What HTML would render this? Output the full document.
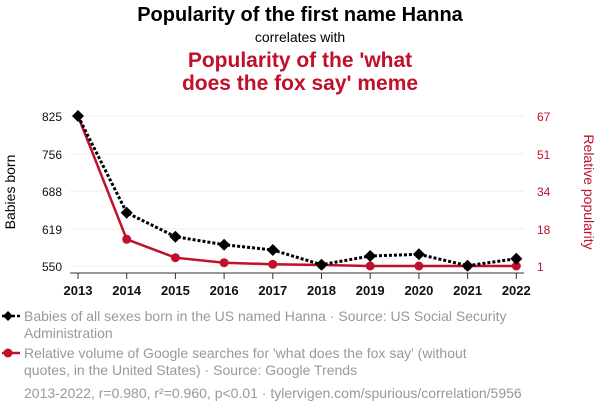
<!DOCTYPE html>
<html><head><style>
body{margin:0;background:#fff;width:600px;height:414px;overflow:hidden;font-family:"Liberation Sans",sans-serif}
</style></head><body>
<svg width="600" height="414" xmlns="http://www.w3.org/2000/svg" font-family="Liberation Sans, sans-serif">
<text x="300" y="21" text-anchor="middle" font-size="20" font-weight="bold" fill="#000">Popularity of the first name Hanna</text>
<text x="300" y="42" text-anchor="middle" font-size="14" fill="#000">correlates with</text>
<text x="300" y="67" text-anchor="middle" font-size="21" font-weight="bold" fill="#c0102a">Popularity of the 'what</text>
<text x="300" y="90" text-anchor="middle" font-size="21" font-weight="bold" fill="#c0102a">does the fox say' meme</text>
<g stroke="#eee" stroke-width="1">
<line x1="70" x2="524" y1="116" y2="116"/><line x1="70" x2="524" y1="154" y2="154"/>
<line x1="70" x2="524" y1="191" y2="191"/><line x1="70" x2="524" y1="229" y2="229"/>
<line x1="70" x2="524" y1="266" y2="266"/></g>
<line x1="70" x2="524" y1="273" y2="273" stroke="#333"/>
<g stroke="#333"><line x1="78" x2="78" y1="273" y2="279"/><line x1="126.7" x2="126.7" y1="273" y2="279"/><line x1="175.4" x2="175.4" y1="273" y2="279"/><line x1="224.1" x2="224.1" y1="273" y2="279"/><line x1="272.8" x2="272.8" y1="273" y2="279"/><line x1="321.5" x2="321.5" y1="273" y2="279"/><line x1="370.2" x2="370.2" y1="273" y2="279"/><line x1="418.9" x2="418.9" y1="273" y2="279"/><line x1="467.6" x2="467.6" y1="273" y2="279"/><line x1="516.3" x2="516.3" y1="273" y2="279"/></g>
<g font-size="13" font-weight="bold" text-anchor="middle" fill="#111">
<text x="78" y="295">2013</text><text x="126.7" y="295">2014</text><text x="175.4" y="295">2015</text><text x="224.1" y="295">2016</text><text x="272.8" y="295">2017</text><text x="321.5" y="295">2018</text><text x="370.2" y="295">2019</text><text x="418.9" y="295">2020</text><text x="467.6" y="295">2021</text><text x="516.3" y="295">2022</text></g>
<g font-size="12" text-anchor="end" fill="#111">
<text x="62" y="121">825</text><text x="62" y="159">756</text><text x="62" y="196">688</text><text x="62" y="234">619</text><text x="62" y="271">550</text></g>
<g font-size="12" fill="#c0102a">
<text x="537" y="121">67</text><text x="537" y="159">51</text><text x="537" y="196">34</text><text x="537" y="234">18</text><text x="537" y="271">1</text></g>
<text transform="translate(15,192) rotate(-90)" text-anchor="middle" font-size="14" fill="#000">Babies born</text>
<text transform="translate(584,192) rotate(90)" text-anchor="middle" font-size="14" fill="#c0102a">Relative popularity</text>
<polyline fill="none" stroke="#c0102a" stroke-width="2.5" points="78,116 126.7,239.3 175.4,257.7 224.1,262.7 272.8,264.3 321.5,265 370.2,266 418.9,266 467.6,266 516.3,266"/>
<g fill="#c0102a"><circle cx="126.7" cy="239.3" r="4.5"/><circle cx="175.4" cy="257.7" r="4.5"/><circle cx="224.1" cy="262.7" r="4.5"/><circle cx="272.8" cy="264.3" r="4.5"/><circle cx="321.5" cy="265" r="4.5"/><circle cx="370.2" cy="266" r="4.5"/><circle cx="418.9" cy="266" r="4.5"/><circle cx="467.6" cy="266" r="4.5"/><circle cx="516.3" cy="266" r="4.5"/></g>
<polyline fill="none" stroke="#000" stroke-width="3" stroke-dasharray="3,2" points="78,116 126.7,212.7 175.4,236.7 224.1,244.7 272.8,250 321.5,264.7 370.2,256 418.9,254.3 467.6,265.7 516.3,258.7"/>
<g fill="#000">
<path d="M78 110l6 6-6 6-6-6z"/><path d="M126.7 206.7l6 6-6 6-6-6z"/><path d="M175.4 230.7l6 6-6 6-6-6z"/><path d="M224.1 238.7l6 6-6 6-6-6z"/><path d="M272.8 244l6 6-6 6-6-6z"/><path d="M321.5 258.7l6 6-6 6-6-6z"/><path d="M370.2 250l6 6-6 6-6-6z"/><path d="M418.9 248.3l6 6-6 6-6-6z"/><path d="M467.6 259.7l6 6-6 6-6-6z"/><path d="M516.3 252.7l6 6-6 6-6-6z"/></g>
<line x1="2" x2="20" y1="316" y2="316" stroke="#000" stroke-width="2.5" stroke-dasharray="3,2"/>
<path d="M8 311l5 5-5 5-5-5z" fill="#000"/>
<line x1="2" x2="20" y1="353" y2="353" stroke="#c0102a" stroke-width="2.5"/>
<circle cx="8" cy="353" r="4.5" fill="#c0102a"/>
<g font-size="14" fill="#999">
<text x="24" y="321">Babies of all sexes born in the US named Hanna · Source: US Social Security</text>
<text x="24" y="338">Administration</text>
<text x="24" y="358">Relative volume of Google searches for 'what does the fox say' (without</text>
<text x="24" y="375">quotes, in the United States) · Source: Google Trends</text>
<text x="24" y="398">2013-2022, r=0.980, r²=0.960, p&lt;0.01 · tylervigen.com/spurious/correlation/5956</text></g>
</svg>
</body></html>
